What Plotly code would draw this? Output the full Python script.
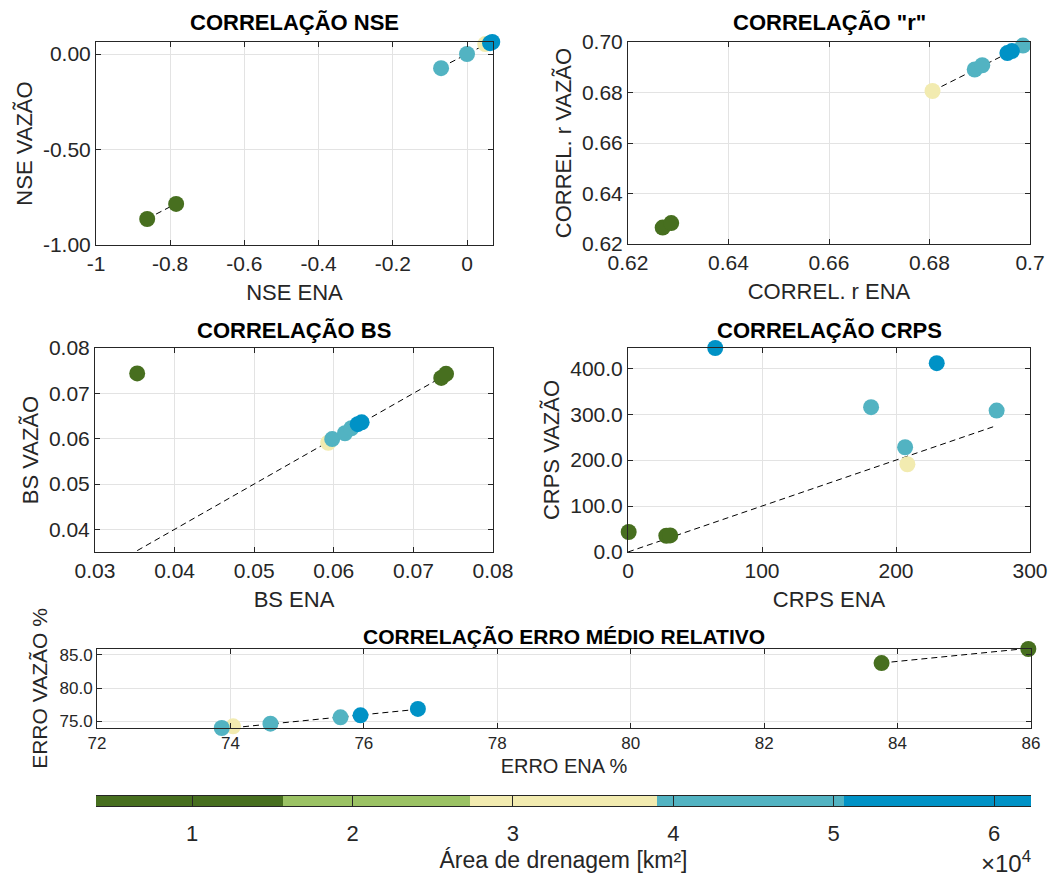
import plotly.graph_objects as go

W, H = 1053, 883

# ---------------- data ----------------
group_colors = {"G": "#476f1f", "L": "#9bc264", "Y": "#f2ebb0", "T": "#52b3c2", "B": "#0092c6"}
colormap_colors = ["#476f1f", "#9bc264", "#f2ebb0", "#52b3c2", "#0092c6"]
area_min, area_max = 4000, 62300  # km² range of colour scale

# NSE
nse_ena = [-0.862, -0.784, 0.049, -0.070, 0.000, 0.062, 0.068]
nse_vaz = [-0.864, -0.785, 0.052, -0.074, 0.000, 0.057, 0.063]
nse_grp = ["G", "G", "Y", "T", "T", "B", "B"]
nse_ref = [[-0.862, -0.784], [-0.070, 0.068]]

# Correlation r
r_ena = [0.6269, 0.6286, 0.6806, 0.6890, 0.6905, 0.6986, 0.6955, 0.6964]
r_vaz = [0.6265, 0.6283, 0.6806, 0.6891, 0.6908, 0.6986, 0.6956, 0.6964]
r_grp = ["G", "G", "Y", "T", "T", "T", "B", "B"]
r_ref = [[0.6269, 0.6286], [0.6806, 0.6986]]

# BS
bs_ena = [0.0353, 0.0735, 0.0741, 0.0593, 0.0598, 0.0614, 0.0622, 0.0630, 0.0635]
bs_vaz = [0.0744, 0.0734, 0.0743, 0.0591, 0.0599, 0.0612, 0.0623, 0.0632, 0.0636]
bs_grp = ["G", "G", "G", "Y", "T", "T", "T", "B", "B"]
bs_ref = [[0.0353, 0.0735]]

# CRPS
crps_ena = [0.5, 28.6, 31.5, 208.5, 181.4, 206.8, 275.1, 65.1, 230.4]
crps_vaz = [43.5, 35.4, 36.0, 191.0, 315.2, 228.0, 307.8, 444.0, 411.0]
crps_grp = ["G", "G", "G", "Y", "T", "T", "T", "B", "B"]
crps_ref = [[0.0, 275.1]]

# Erro médio relativo
err_ena = [83.76, 85.96, 74.04, 73.87, 74.60, 75.65, 75.95, 76.81]
err_vaz = [83.75, 85.86, 74.25, 74.00, 74.65, 75.60, 75.90, 76.86]
err_grp = ["G", "G", "Y", "T", "T", "T", "B", "B"]
err_ref = [[74.04, 76.81], [83.76, 85.96]]

# ticks
nse_xt = [-1, -0.8, -0.6, -0.4, -0.2, 0]
nse_xl = ["-1", "-0.8", "-0.6", "-0.4", "-0.2", "0"]
nse_yt = [-1, -0.5, 0]
nse_yl = ["-1.00", "-0.50", "0.00"]
r_xt = [0.62, 0.64, 0.66, 0.68, 0.70]
r_xl = ["0.62", "0.64", "0.66", "0.68", "0.7"]
r_yt = [0.62, 0.64, 0.66, 0.68, 0.70]
r_yl = ["0.62", "0.64", "0.66", "0.68", "0.70"]
bs_xt = [0.03, 0.04, 0.05, 0.06, 0.07, 0.08]
bs_xl = ["0.03", "0.04", "0.05", "0.06", "0.07", "0.08"]
bs_yt = [0.04, 0.05, 0.06, 0.07, 0.08]
bs_yl = ["0.04", "0.05", "0.06", "0.07", "0.08"]
crps_xt = [0, 100, 200, 300]
crps_xl = ["0", "100", "200", "300"]
crps_yt = [0, 100, 200, 300, 400]
crps_yl = ["0.0", "100.0", "200.0", "300.0", "400.0"]
err_xt = [72, 74, 76, 78, 80, 82, 84, 86]
err_xl = ["72", "74", "76", "78", "80", "82", "84", "86"]
err_yt = [75, 80, 85]
err_yl = ["75.0", "80.0", "85.0"]
cb_t = [10000, 20000, 30000, 40000, 50000, 60000]
cb_l = ["1", "2", "3", "4", "5", "6"]

# ---------------- layout helpers ----------------
FONT = "Liberation Sans, Arial, Helvetica, sans-serif"
AX = "#262626"


def xd(a, b):
    return [a / W, b / W]


def yd(top, bottom):
    return [1 - bottom / H, 1 - top / H]


def axis(domain, rng, tv, tt, title, anchor, tfs=21, lfs=22, standoff=10):
    return dict(
        domain=domain, range=rng, tickvals=tv, ticktext=tt, anchor=anchor,
        showline=True, linecolor=AX, linewidth=1, mirror="ticks",
        ticks="inside", ticklen=5, tickcolor=AX, showgrid=True,
        gridcolor="#e3e3e3", gridwidth=1, zeroline=False, automargin=False,
        tickfont=dict(family=FONT, size=tfs, color=AX),
        title=dict(text=title, font=dict(family=FONT, size=lfs, color=AX), standoff=standoff),
    )


fig = go.Figure()

panels = [
    (nse_ena, nse_vaz, nse_grp, nse_ref, "x", "y"),
    (r_ena, r_vaz, r_grp, r_ref, "x2", "y2"),
    (bs_ena, bs_vaz, bs_grp, bs_ref, "x3", "y3"),
    (crps_ena, crps_vaz, crps_grp, crps_ref, "x4", "y4"),
    (err_ena, err_vaz, err_grp, err_ref, "x5", "y5"),
]

for xs, ys, gs, ref, xa, ya in panels:
    lx, ly = [], []
    for a, b in ref:
        lx += [a, b, None]
        ly += [a, b, None]
    fig.add_trace(go.Scatter(x=lx, y=ly, mode="lines", xaxis=xa, yaxis=ya,
                             line=dict(color="black", width=1, dash="6px,4px"),
                             showlegend=False, hoverinfo="skip"))
    fig.add_trace(go.Scatter(x=xs, y=ys, mode="markers", xaxis=xa, yaxis=ya,
                             marker=dict(size=16, color=[group_colors[g] for g in gs], line=dict(width=0)),
                             cliponaxis=False, showlegend=False))

# colour bar drawn as a heatmap strip on its own axis
n = len(colormap_colors)
edges = [area_min + (area_max - area_min) * i / n for i in range(n + 1)]
cs = []
for i, c in enumerate(colormap_colors):
    lo = max(0.0, (i - 0.5) / (n - 1))
    hi = min(1.0, (i + 0.5) / (n - 1))
    cs += [[lo, c], [hi, c]]
fig.add_trace(go.Heatmap(z=[list(range(n))], x=edges, y=[0], xaxis="x6", yaxis="y6",
                         colorscale=cs, zmin=0, zmax=n - 1, showscale=False, hoverinfo="skip"))

layout = dict(
    width=W, height=H, margin=dict(l=0, r=0, t=0, b=0, autoexpand=False),
    paper_bgcolor="white", plot_bgcolor="white",
    font=dict(family=FONT, color=AX),
    xaxis=axis(xd(96, 493), [-1, 0.07], nse_xt, nse_xl, "NSE ENA", "y"),
    yaxis=axis(yd(42, 245), [-1, 0.063], nse_yt, nse_yl, "NSE VAZÃO", "x", standoff=4),
    xaxis2=axis(xd(628, 1030), [0.62, 0.70], r_xt, r_xl, "CORREL. r ENA", "y2"),
    yaxis2=axis(yd(42, 244), [0.62, 0.70], r_yt, r_yl, "CORREL. r VAZÃO", "x2", standoff=4),
    xaxis3=axis(xd(95, 493), [0.03, 0.08], bs_xt, bs_xl, "BS ENA", "y3"),
    yaxis3=axis(yd(348, 552), [0.035, 0.08], bs_yt, bs_yl, "BS VAZÃO", "x3", standoff=4),
    xaxis4=axis(xd(628, 1030), [0, 300], crps_xt, crps_xl, "CRPS ENA", "y4"),
    yaxis4=axis(yd(348, 552), [0, 444], crps_yt, crps_yl, "CRPS VAZÃO", "x4", standoff=4),
    xaxis5=axis(xd(97, 1031), [72, 86], err_xt, err_xl, "ERRO ENA %", "y5", tfs=17, lfs=20, standoff=6),
    yaxis5=axis(yd(649, 728), [74.0, 85.86], err_yt, err_yl, "ERRO VAZÃO %", "x5", tfs=17, lfs=21, standoff=6),
    xaxis6=dict(domain=xd(96, 1031), range=[area_min, area_max], anchor="y6", automargin=False,
                tickvals=cb_t, ticktext=cb_l, ticks="inside", ticklen=10, tickcolor=AX,
                showline=True, linecolor=AX, mirror=True, showgrid=False, zeroline=False,
                ticklabelstandoff=8,
                tickfont=dict(family=FONT, size=22, color=AX),
                title=dict(text="Área de drenagem [km²]", font=dict(family=FONT, size=23, color=AX), standoff=6)),
    yaxis6=dict(domain=yd(796, 806), range=[-0.5, 0.5], anchor="x6", visible=False, automargin=False),
)
fig.update_layout(**layout)

titles = [
    ("CORRELAÇÃO NSE", (96 + 493) / 2, 22, 22),
    ("CORRELAÇÃO \"r\"", (628 + 1030) / 2, 22, 22),
    ("CORRELAÇÃO BS", (95 + 493) / 2, 331, 22),
    ("CORRELAÇÃO CRPS", (628 + 1030) / 2, 331, 22),
    ("CORRELAÇÃO ERRO MÉDIO RELATIVO", (97 + 1031) / 2, 636, 21),
]
for txt, cx, cy, fs in titles:
    fig.add_annotation(text="<b>" + txt + "</b>", x=cx / W, y=1 - cy / H,
                       xref="paper", yref="paper", showarrow=False, xanchor="center", yanchor="middle",
                       font=dict(family=FONT, size=fs, color="black"))

fig.add_annotation(text="×10<sup>4</sup>", x=1033 / W, y=1 - 862 / H, xref="paper", yref="paper",
                   showarrow=False, xanchor="right", yanchor="middle",
                   font=dict(family=FONT, size=24, color=AX))

fig.write_html("out.html")
